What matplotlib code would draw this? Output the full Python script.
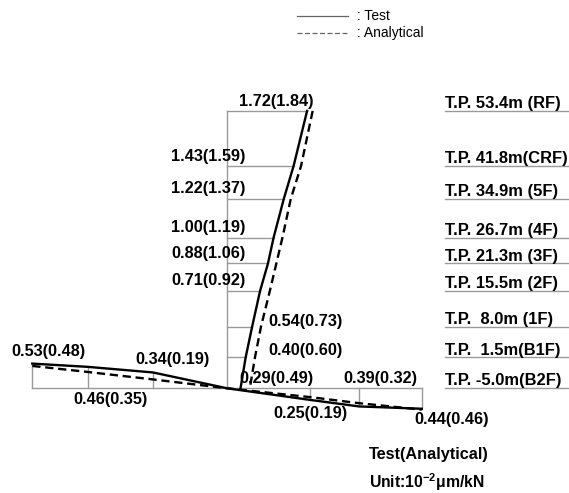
import numpy as np
import matplotlib
matplotlib.use("Agg")
import matplotlib.pyplot as plt

plt.rcParams['font.family'] = ['Liberation Sans', 'DejaVu Sans']
plt.rcParams['mathtext.fontset'] = 'custom'
plt.rcParams['mathtext.rm'] = 'Liberation Sans'
plt.rcParams['mathtext.bf'] = 'Liberation Sans:bold'

# floor levels (elevation in m) and measured / analytical values along the height
floors = ['RF', 'CRF', '5F', '4F', '3F', '2F', '1F', 'B1F', 'B2F']
elev = [53.4, 41.8, 34.9, 26.7, 21.3, 15.5, 8.0, 1.5, -5.0]
floor_labels = ['T.P. 53.4m (RF)', 'T.P. 41.8m(CRF)', 'T.P. 34.9m (5F)',
                'T.P. 26.7m (4F)', 'T.P. 21.3m (3F)', 'T.P. 15.5m (2F)',
                'T.P.  8.0m (1F)', 'T.P.  1.5m(B1F)', 'T.P. -5.0m(B2F)']
test_v = [1.72, 1.43, 1.22, 1.00, 0.88, 0.71, 0.54, 0.40, 0.29]
anal_v = [1.84, 1.59, 1.37, 1.19, 1.06, 0.92, 0.73, 0.60, 0.49]

# points along the base slab (plan position in m), left side moves up, right side down
base_pos = [-41.0, -29.3, -15.6, 17.5, 27.8, 41.0]
test_h = [0.53, 0.46, 0.34, 0.25, 0.39, 0.44]
anal_h = [0.48, 0.35, 0.19, 0.19, 0.32, 0.46]

scale = 9.8          # m of drawing per 10^-2 um/kN
base = elev[-1]
gray = '#9a9a9a'

fig = plt.figure(figsize=(5.69, 4.93), dpi=100)
ax = fig.add_axes([0, 0, 1, 1])
ax.set_xlim(-47.8, 72.0)
ax.set_ylim(-27.05, 76.75)
ax.axis('off')

elev = np.array(elev)
tv = np.array(test_v) * scale
av = np.array(anal_v) * scale

# building axis and floor lines
ax.plot([0, 0], [base, elev[0]], color=gray, lw=1)
for e, t in zip(elev[:-1], tv[:-1]):
    ax.plot([0, t], [e, e], color=gray, lw=1)

# base line with ticks up/down to the test curve
pos = np.array(base_pos)
sign = np.where(pos < 0, 1, -1)
th = base + sign * np.array(test_h) * scale
ah = base + sign * np.array(anal_h) * scale
ax.plot([pos[0], pos[-1]], [base, base], color=gray, lw=1)
for p, y in zip(pos, th):
    ax.plot([p, p], [base, y], color=gray, lw=1)

# profiles: vertical along the height, horizontal along the base
px = np.insert(pos, 3, 0.0)
ax.plot(tv, elev, color='black', lw=1.7)
ax.plot(av, elev, color='black', lw=1.7, ls=(0, (3.5, 2)))
ax.plot(px, np.insert(th, 3, base), color='black', lw=1.7)
ax.plot(px, np.insert(ah, 3, base), color='black', lw=1.7, ls=(0, (3.5, 2)))

# value labels
fs = 11.7
lab = [f'{t:.2f}({a:.2f})' for t, a in zip(test_v, anal_v)]
ax.text(10.3, elev[0] + 2.0, lab[0], ha='center', va='center', fontsize=fs, fontweight='bold')
for i in range(1, 6):
    ax.text(-11.8, elev[i] + 2.1, lab[i], ha='left', va='center', fontsize=fs, fontweight='bold')
ax.text(8.8, elev[6] + 1.1, lab[6], ha='left', va='center', fontsize=fs, fontweight='bold')
ax.text(8.8, elev[7] + 1.5, lab[7], ha='left', va='center', fontsize=fs, fontweight='bold')
ax.text(2.7, elev[8] + 2.0, lab[8], ha='left', va='center', fontsize=fs, fontweight='bold')

hlab = [f'{t:.2f}({a:.2f})' for t, a in zip(test_h, anal_h)]
hpos = [(-45.3, 2.64, 'left'), (-24.6, -7.46, 'center'), (-11.5, 0.96, 'center'),
        (17.5, -10.3, 'center'), (32.3, -2.9, 'center'), (47.3, -11.67, 'center')]
for s, (x, y, ha) in zip(hlab, hpos):
    ax.text(x, y, s, ha=ha, va='center', fontsize=fs, fontweight='bold')

# floor level captions with underline
for e, s in zip(elev, floor_labels):
    ax.plot([45.9, 72.0], [e, e], color=gray, lw=1)
    ax.text(45.9, e + 0.6, s, ha='left', va='baseline', fontsize=11.9, fontweight='bold')

# legend
ax.plot([14.7, 25.5], [73.4, 73.4], color='#666666', lw=0.9)
ax.plot([14.7, 25.5], [69.8, 69.8], color='#666666', lw=0.9, ls=(0, (4, 2)))
ax.text(27.4, 73.4, ': Test', ha='left', va='center', fontsize=10)
ax.text(27.4, 69.8, ': Analytical', ha='left', va='center', fontsize=10)

ax.text(29.9, -19.04, 'Test(Analytical)', ha='left', va='center', fontsize=fs, fontweight='bold')
ax.text(29.9, -24.7, r'Unit:10$^{\mathbf{-2}}$μm/kN', ha='left', va='center',
        fontsize=11.3, fontweight='bold')

fig.savefig('out.png', dpi=100)
